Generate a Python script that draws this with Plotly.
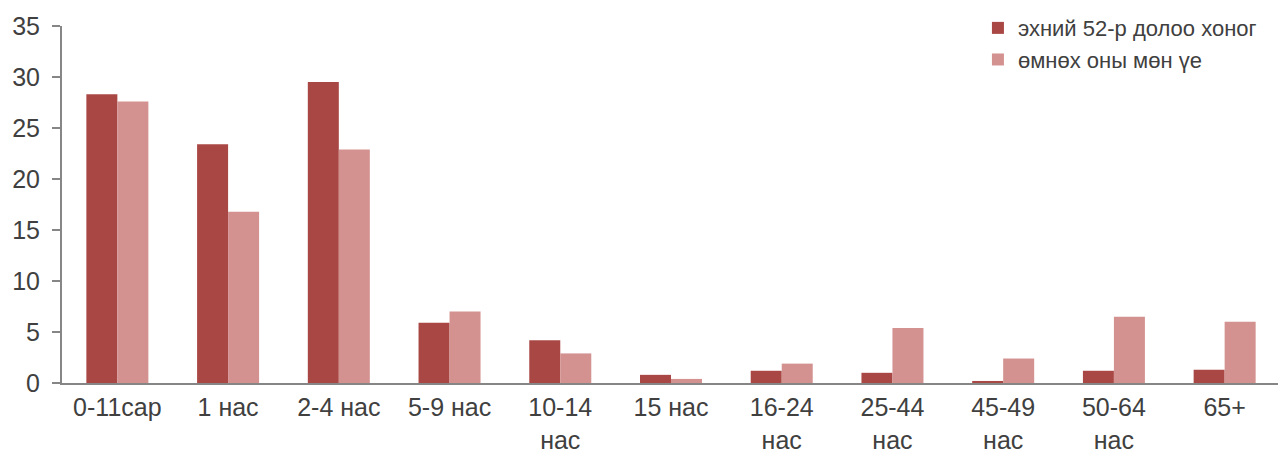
import plotly.graph_objects as go

# Нас бүлгүүд
categories = ['0-11сар', '1 нас', '2-4 нас', '5-9 нас', '10-14<br>нас', '15 нас',
              '16-24<br>нас', '25-44<br>нас', '45-49<br>нас', '50-64<br>нас', '65+']

# Утгууд
last_week = [28.3, 23.4, 29.5, 5.9, 4.2, 0.8, 1.2, 1.0, 0.2, 1.2, 1.3]
prev_year = [27.6, 16.8, 22.9, 7.0, 2.9, 0.4, 1.9, 5.4, 2.4, 6.5, 6.0]

DARK = '#A94744'
LIGHT = '#D39190'
TEXT = '#404040'
AXIS = '#868686'

fig = go.Figure()
fig.add_trace(go.Bar(x=categories, y=last_week, name='эхний 52-р долоо хоног',
                     marker=dict(color=DARK, line=dict(width=0))))
fig.add_trace(go.Bar(x=categories, y=prev_year, name='өмнөх оны мөн үе',
                     marker=dict(color=LIGHT, line=dict(width=0))))

# страницын 8px body margin-ийг тооцсон хэмжээ
fig.update_layout(
    width=1278, height=447,
    barmode='group',
    bargap=0.44,
    bargroupgap=0,
    plot_bgcolor='white',
    paper_bgcolor='white',
    font=dict(family='Liberation Sans, Arial, sans-serif', color=TEXT, size=25),
    margin=dict(l=54, r=6, t=18, b=72, autoexpand=False),
    showlegend=True,
    legend=dict(
        x=0.752, y=1.053, xanchor='left', yanchor='top',
        font=dict(size=22, color=TEXT),
        bgcolor='rgba(0,0,0,0)',
        tracegroupgap=0,
        itemwidth=30,
    ),
    xaxis=dict(
        showline=True, linecolor=AXIS, linewidth=2,
        ticks='', showgrid=False, tickfont=dict(size=25, color=TEXT),
        ticklabelstandoff=1,
    ),
    yaxis=dict(
        range=[0, 35], dtick=5,
        showline=True, linecolor=AXIS, linewidth=2,
        ticks='outside', ticklen=8, tickcolor=AXIS, tickwidth=1.5,
        showgrid=False, zeroline=False,
        tickfont=dict(size=25, color=TEXT),
        ticklabelstandoff=7,
    ),
)

fig.write_html("out.html")
